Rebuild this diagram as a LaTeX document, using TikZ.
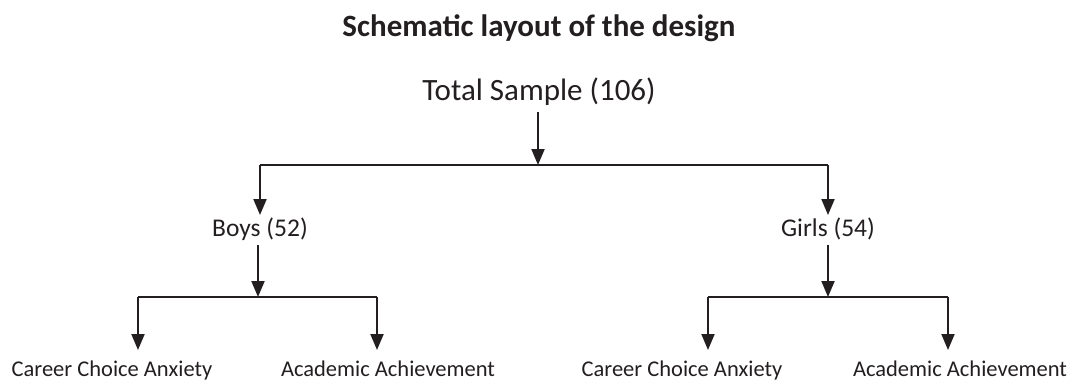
\documentclass[tikz,border=0pt]{standalone}
\usepackage{fontspec}
\setmainfont{Carlito}
\usetikzlibrary{positioning, arrows.meta, calc}
\definecolor{inkDark}{HTML}{231F20}

\begin{document}
\begin{tikzpicture}[x=1pt, y=-1pt,
    lbl/.style={inner sep=0pt, anchor=base, text=inkDark, font=\fontsize{22.5}{27}\selectfont},
    lblMid/.style={lbl, font=\fontsize{25.5}{30}\selectfont},
    lblTop/.style={lbl, font=\fontsize{31}{37}\selectfont},
    lblTitle/.style={lbl, font=\fontsize{31}{37}\selectfont\bfseries},
    link/.style={draw=inkDark, line width=2pt},
    arr/.style={link, -{Triangle[length=16pt, width=13pt]}},
]
\useasboundingbox (0,0) rectangle (1073,381);
% title and sample sizes
\node[lblTitle] (title) at (539, 36) {Schematic layout of the design};
\node[lblTop] (total) at (539, 100) {Total Sample (106)};
\node[lblMid] (boys) at (260, 236) {Boys (52)};
\node[lblMid] (girls) at (828, 236) {Girls (54)};
% outcome measures
\node[lbl] (bCCA) at (112, 376) {Career Choice Anxiety};
\node[lbl] (bAA) at (388, 376) {Academic Achievement};
\node[lbl] (gCCA) at (682, 376) {Career Choice Anxiety};
\node[lbl] (gAA) at (960, 376) {Academic Achievement};
% junctions and arrow ends
\coordinate (jTop) at (538, 165);
\coordinate (jBoys) at (258, 297);
\coordinate (jGirls) at (828, 297);
\coordinate (tBoys) at (260, 215);
\coordinate (tGirls) at (828, 215);
\coordinate (tBCCA) at (138, 350);
\coordinate (tBAA) at (377, 350);
\coordinate (tGCCA) at (708, 350);
\coordinate (tGAA) at (948, 350);
% connectors
\draw[arr] (total.south -| jTop) ++(0,7) -- (jTop);
\draw[link] (jTop) -- (jTop -| tBoys) (jTop) -- (jTop -| tGirls);
\draw[arr] (jTop -| tBoys) -- (tBoys);
\draw[arr] (jTop -| tGirls) -- (tGirls);
\draw[arr] (boys.south -| jBoys) ++(0,5) -- (jBoys);
\draw[arr] (girls.south -| jGirls) ++(0,5) -- (jGirls);
\draw[link] (jBoys -| tBCCA) -- (jBoys -| tBAA);
\draw[link] (jGirls -| tGCCA) -- (jGirls -| tGAA);
\draw[arr] (jBoys -| tBCCA) -- (tBCCA);
\draw[arr] (jBoys -| tBAA) -- (tBAA);
\draw[arr] (jGirls -| tGCCA) -- (tGCCA);
\draw[arr] (jGirls -| tGAA) -- (tGAA);
\end{tikzpicture}
\end{document}
